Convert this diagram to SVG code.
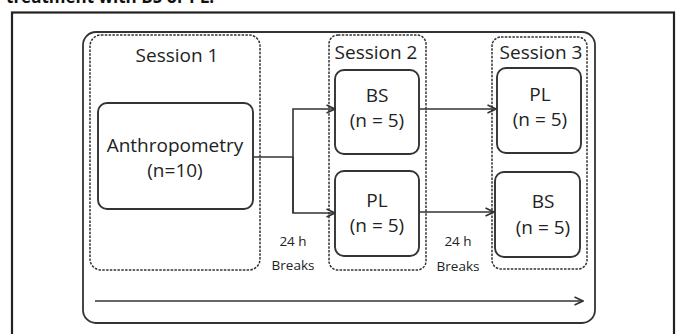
<svg xmlns="http://www.w3.org/2000/svg" width="681" height="334" viewBox="0 0 681 334">
<style>
  text { font-family: "Open Sans", "Liberation Sans", sans-serif; fill: #222; text-anchor: middle; }
  .big { font-size: 19px; }
  .small { font-size: 13.5px; }
  .title { font-size: 17px; font-weight: bold; text-anchor: start; fill: #111; }
  .frame { fill: none; stroke: #222; stroke-width: 2.2; }
  .outer { fill: none; stroke: #333; stroke-width: 1.8; }
  .session { fill: none; stroke: #333; stroke-width: 1.5; stroke-dasharray: 2.5 1.3; }
  .box { fill: #fff; stroke: #333; stroke-width: 1.9; }
  .conn { fill: none; stroke: #333; stroke-width: 1.6; }
</style>
<defs>
  <marker id="arr" viewBox="0 0 10 10" refX="9.5" refY="5" markerWidth="10" markerHeight="10" markerUnits="userSpaceOnUse" orient="auto">
    <path d="M1,1 L9.5,5 L1,9" fill="none" stroke="#333" stroke-width="1.6"/>
  </marker>
</defs>
<rect width="681" height="334" fill="#fff"/>
<text class="title" x="6" y="3">treatment with BS or PL.</text>
<rect class="frame" x="12" y="12.5" width="662" height="330"/>
<rect class="outer" x="83" y="32" width="512" height="291" rx="13"/>

<g id="session1">
  <rect class="session" x="90" y="35" width="170" height="235" rx="11"/>
  <text class="big" x="177" y="62">Session 1</text>
</g>
<g id="anthropometry">
  <rect class="box" x="98" y="103" width="155" height="106" rx="9"/>
  <text class="big" x="175" y="152">Anthropometry</text>
  <text class="big" x="175" y="177">(n=10)</text>
</g>
<g id="session2">
  <rect class="session" x="329" y="35" width="97" height="235" rx="9"/>
  <text class="big" x="376" y="59">Session 2</text>
</g>
<g id="s2-bs">
  <rect class="box" x="335" y="70" width="84" height="84" rx="9"/>
  <text class="big" x="377" y="102">BS</text>
  <text class="big" x="377" y="127">(n = 5)</text>
</g>
<g id="s2-pl">
  <rect class="box" x="335" y="171" width="84" height="85" rx="9"/>
  <text class="big" x="377" y="207">PL</text>
  <text class="big" x="377" y="232">(n = 5)</text>
</g>
<g id="session3">
  <rect class="session" x="492" y="37" width="95" height="232" rx="9"/>
  <text class="big" x="541" y="59">Session 3</text>
</g>
<g id="s3-pl">
  <rect class="box" x="497" y="68" width="84" height="85" rx="9"/>
  <text class="big" x="540" y="101">PL</text>
  <text class="big" x="540" y="126">(n = 5)</text>
</g>
<g id="s3-bs">
  <rect class="box" x="495" y="172" width="85" height="85" rx="9"/>
  <text class="big" x="543" y="208">BS</text>
  <text class="big" x="543" y="234">(n = 5)</text>
</g>
<g id="breaks1">
  <text class="small" x="293" y="246">24 h</text>
  <text class="small" x="293" y="270">Breaks</text>
</g>
<g id="breaks2">
  <text class="small" x="458" y="246">24 h</text>
  <text class="small" x="458" y="271">Breaks</text>
</g>
<g id="connectors">
  <path class="conn" d="M253,157 H293"/>
  <path class="conn" d="M293,213 V109 H335" marker-end="url(#arr)"/>
  <path class="conn" d="M293,157 V213 H335" marker-end="url(#arr)"/>
  <path class="conn" d="M419,109 H496" marker-end="url(#arr)"/>
  <path class="conn" d="M419,212 H494" marker-end="url(#arr)"/>
  <path class="conn" d="M95,301 H583" marker-end="url(#arr)"/>
</g>
</svg>
